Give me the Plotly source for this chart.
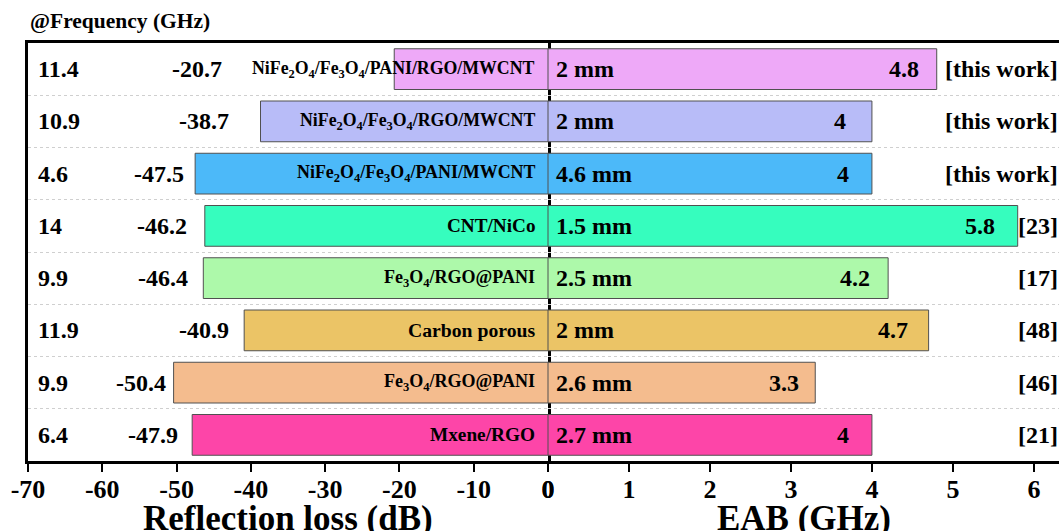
import plotly.graph_objects as go

# ---------------- data ----------------
materials = [
    "NiFe<sub>2</sub>O<sub>4</sub>/Fe<sub>3</sub>O<sub>4</sub>/PANI/RGO/MWCNT",
    "NiFe<sub>2</sub>O<sub>4</sub>/Fe<sub>3</sub>O<sub>4</sub>/RGO/MWCNT",
    "NiFe<sub>2</sub>O<sub>4</sub>/Fe<sub>3</sub>O<sub>4</sub>/PANI/MWCNT",
    "CNT/NiCo",
    "Fe<sub>3</sub>O<sub>4</sub>/RGO@PANI",
    "Carbon porous",
    "Fe<sub>3</sub>O<sub>4</sub>/RGO@PANI",
    "Mxene/RGO",
]
frequency = ["11.4", "10.9", "4.6", "14", "9.9", "11.9", "9.9", "6.4"]
reflection_loss = [-20.7, -38.7, -47.5, -46.2, -46.4, -40.9, -50.4, -47.9]
eab = [4.8, 4, 4, 5.8, 4.2, 4.7, 3.3, 4]
thickness = ["2 mm", "2 mm", "4.6 mm", "1.5 mm", "2.5 mm", "2 mm", "2.6 mm", "2.7 mm"]
references = ["[this work]", "[this work]", "[this work]", "[23]", "[17]", "[48]", "[46]", "[21]"]
rl_ticks = [-70, -60, -50, -40, -30, -20, -10, 0]
eab_ticks = [0, 1, 2, 3, 4, 5, 6]

# ---------------- style ----------------
colors = ["#EEA9F8", "#B8BCF8", "#4CB9F9", "#36FDBE",
          "#ADF9AA", "#EBC466", "#F4BC8E", "#FD45A8"]
name_sizes = [17.8, 17.8, 17.9, 19.2, 18, 19.7, 18, 19.3]
rl_label_shift = [-170, -30, -9, -16, -13, -13, -6, -12]
eab_label_shift = [-16, -24, -21, -21, -16, -19, -14, -21]
FONT = "Liberation Serif"
W, H = 1059, 531
LEFT_PX, MID_PX = 28, 548

rows = list(range(len(materials)))

fig = go.Figure()
fig.add_trace(go.Bar(
    x=reflection_loss, y=rows, orientation="h", width=0.78,
    marker=dict(color=colors, line=dict(color="#505050", width=1)),
    xaxis="x", yaxis="y", hoverinfo="skip",
))
fig.add_trace(go.Bar(
    x=eab, y=rows, orientation="h", width=0.78,
    marker=dict(color=colors, line=dict(color="#505050", width=1)),
    xaxis="x2", yaxis="y2", hoverinfo="skip",
))

def f(size):
    return dict(family=FONT, size=size, color="black", weight="bold")

ann = []
for i in rows:
    ann.append(dict(xref="x domain", x=0, xshift=8, xanchor="left",
                    yref="y", y=i, yanchor="middle",
                    text=frequency[i], showarrow=False, font=f(24)))
    ann.append(dict(xref="x", x=reflection_loss[i], xshift=rl_label_shift[i], xanchor="right",
                    yref="y", y=i, yanchor="middle",
                    text=f"{reflection_loss[i]:g}", showarrow=False, font=f(24)))
    ann.append(dict(xref="x", x=0, xshift=-11, xanchor="right",
                    yref="y", y=i, yanchor="middle",
                    text=materials[i], showarrow=False, font=f(name_sizes[i])))
    ann.append(dict(xref="x2", x=0, xshift=6, xanchor="left",
                    yref="y2", y=i, yanchor="middle",
                    text=thickness[i], showarrow=False, font=f(24)))
    ann.append(dict(xref="x2", x=eab[i], xshift=eab_label_shift[i], xanchor="right",
                    yref="y2", y=i, yanchor="middle",
                    text=f"{eab[i]:g}", showarrow=False, font=f(24)))
    ann.append(dict(xref="paper", x=1, xshift=1, xanchor="right",
                    yref="y2", y=i, yanchor="middle",
                    text=references[i], showarrow=False, font=f(24)))

ann.append(dict(xref="paper", x=LEFT_PX / W, xanchor="left",
                yref="paper", y=1, yshift=22, yanchor="middle",
                text="@Frequency (GHz)", showarrow=False, font=f(21.5)))
ann.append(dict(xref="x domain", x=0.5, xanchor="center",
                yref="paper", y=0, yshift=-57, yanchor="middle",
                text="Reflection loss (dB)", showarrow=False, font=f(35)))
ann.append(dict(xref="x2 domain", x=0.5, xanchor="center",
                yref="paper", y=0, yshift=-57, yanchor="middle",
                text="EAB (GHz)", showarrow=False, font=f(35)))

axis_common = dict(
    ticks="outside", ticklen=8, tickwidth=2, tickcolor="black",
    ticklabelstandoff=-5,
    showline=True, linewidth=3, linecolor="black", mirror=True,
    showgrid=False, zeroline=False, automargin=False,
    tickfont=f(26),
)
grid_vals = [r - 0.5 for r in rows] + [len(rows) - 0.5]

fig.update_layout(
    width=W, height=H,
    margin=dict(l=0, r=0, t=43, b=70, autoexpand=False),
    plot_bgcolor="white", paper_bgcolor="white",
    showlegend=False,
    font=dict(family=FONT, color="black"),
    xaxis=dict(domain=[LEFT_PX / W, MID_PX / W], range=[-70, 0],
               tickvals=rl_ticks, ticktext=[str(v) for v in rl_ticks],
               anchor="y", **axis_common),
    xaxis2=dict(domain=[MID_PX / W, 1], range=[0, 6.31],
                tickvals=eab_ticks, ticktext=[str(v) for v in eab_ticks],
                anchor="y2", **axis_common),
    yaxis=dict(range=[len(rows) - 0.5, -0.5], anchor="x", tickvals=grid_vals,
               showticklabels=False, ticks="", showgrid=True, gridcolor="#cfcfcf",
               griddash="dot", gridwidth=1, zeroline=False, automargin=False,
               showline=True, linewidth=3, linecolor="black", mirror=True),
    yaxis2=dict(matches="y", anchor="x2", tickvals=grid_vals,
                showticklabels=False, ticks="", showgrid=True, gridcolor="#cfcfcf",
                griddash="dot", gridwidth=1, zeroline=False, showline=False,
                automargin=False),
    annotations=ann,
)

fig.write_html(
    "out.html",
    config={"displayModeBar": False},
    post_script="document.body.style.margin='0';document.body.style.padding='0';"
                "document.body.style.overflow='hidden';",
)
